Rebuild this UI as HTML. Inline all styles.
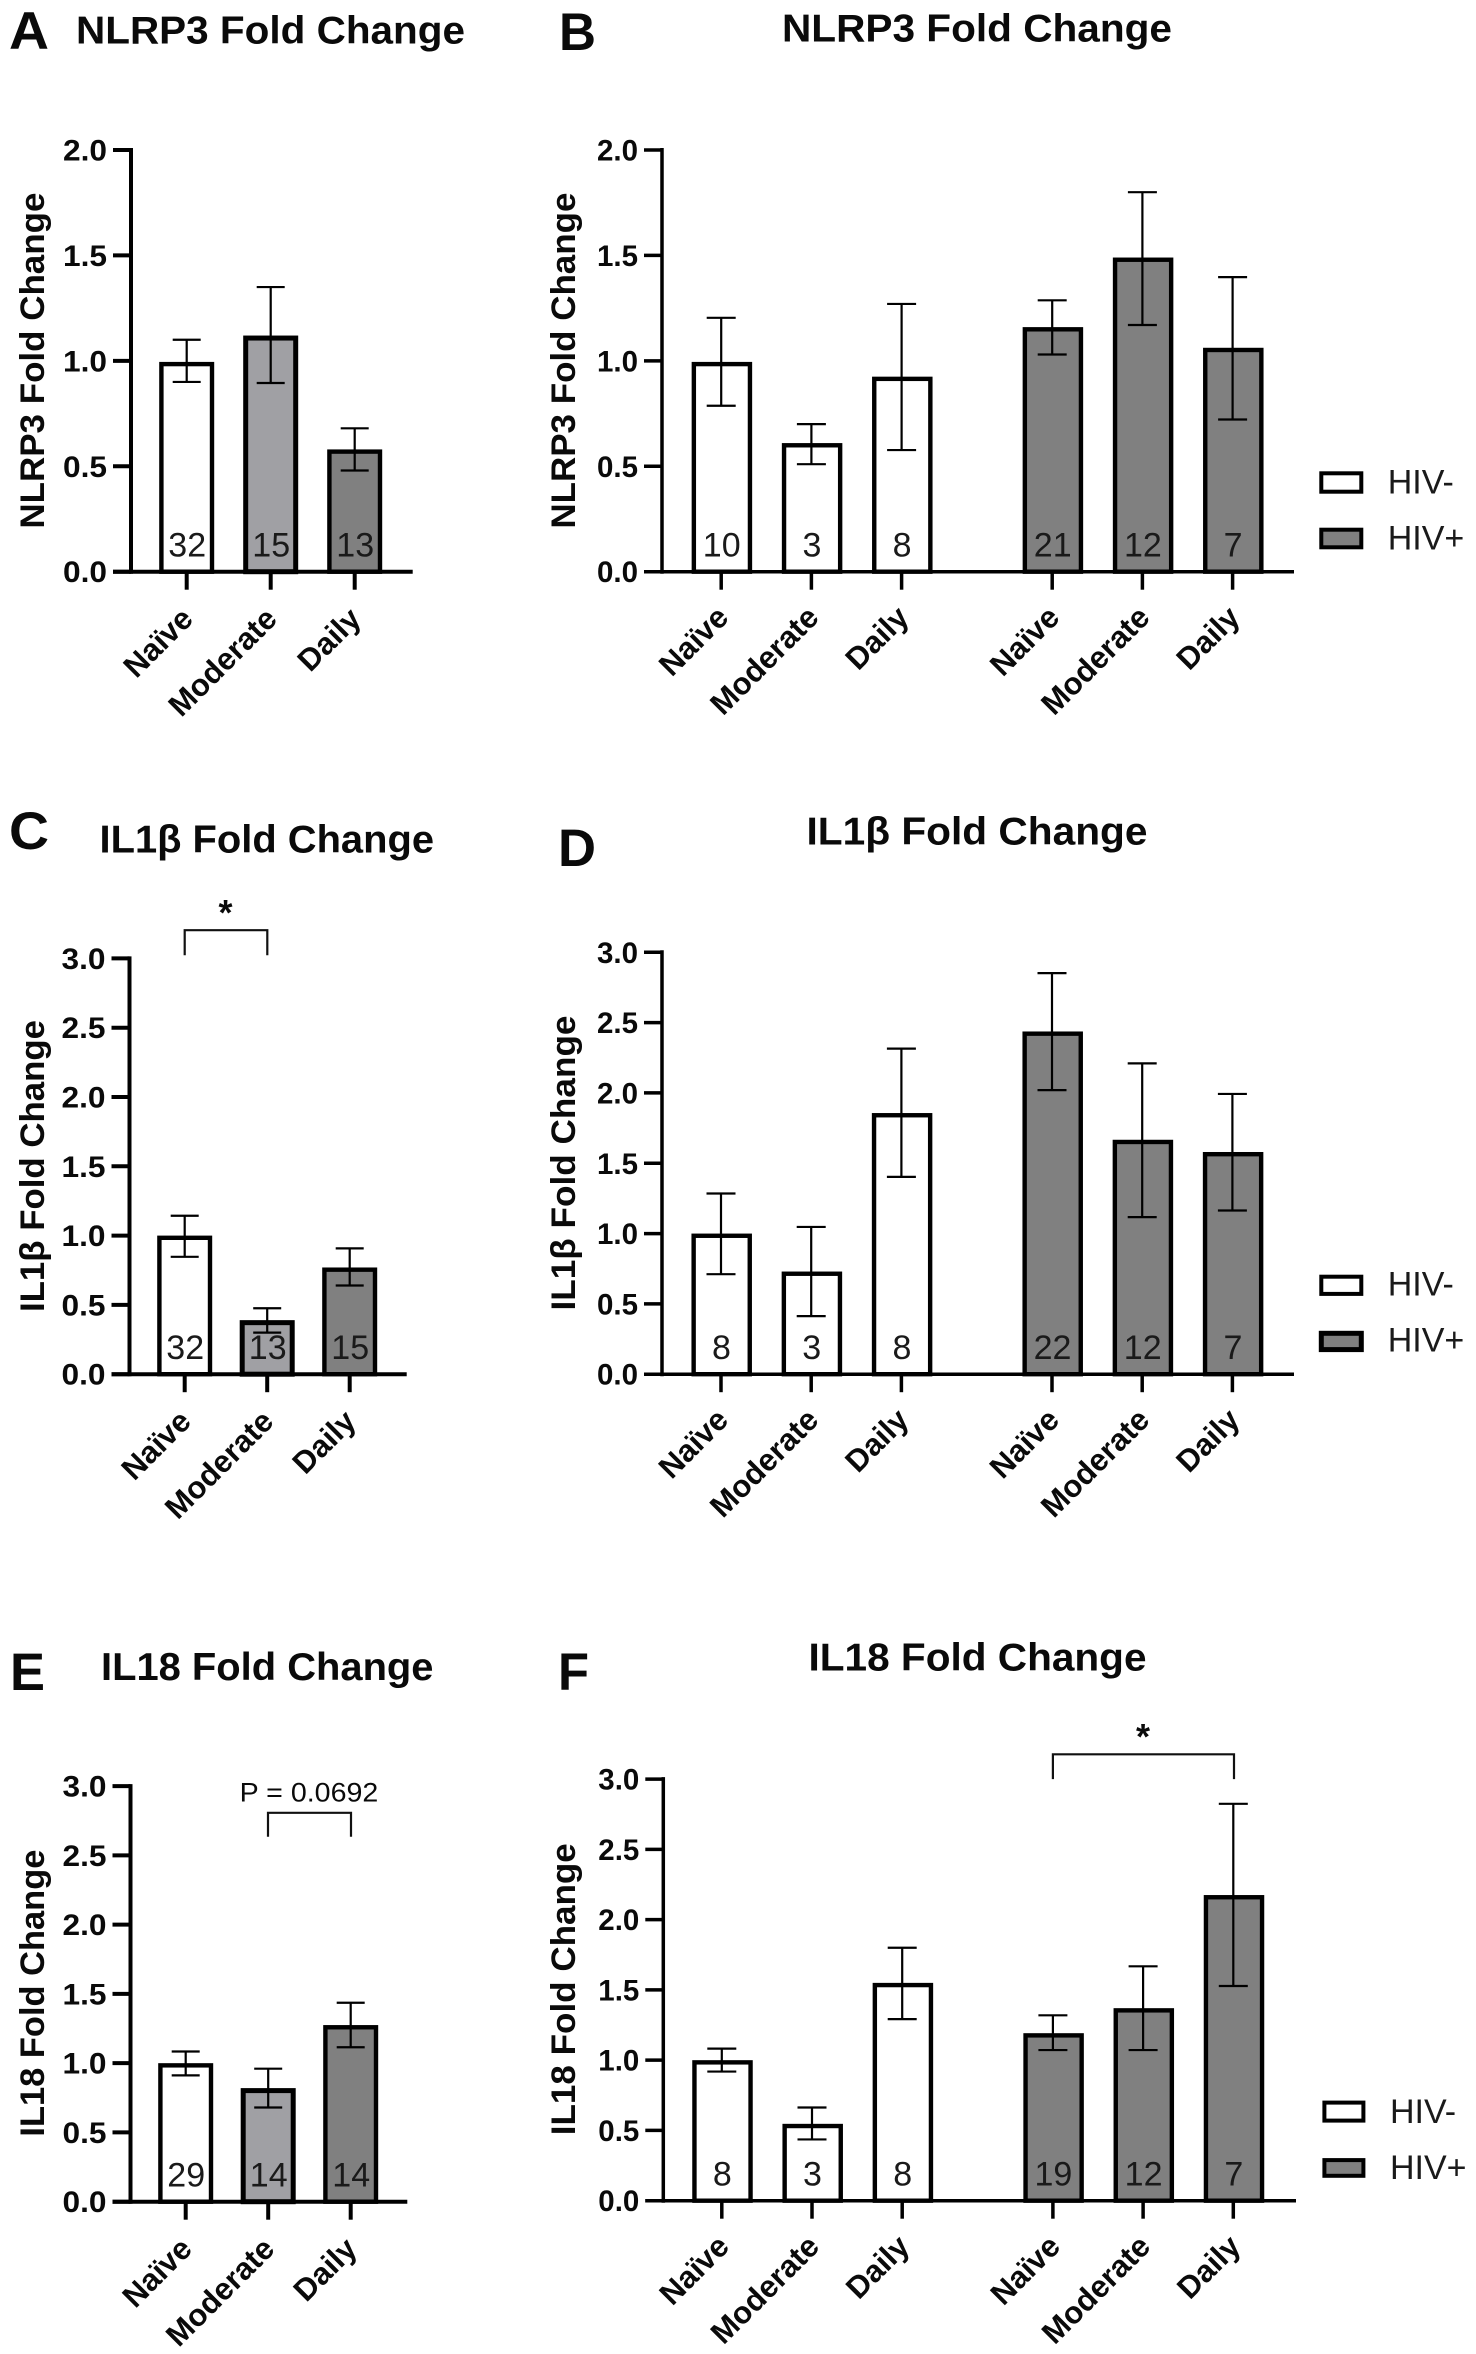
<!DOCTYPE html>
<html lang="en">
<head>
<meta charset="utf-8">
<title>NLRP3, IL1β and IL18 Fold Change</title>
<style>
html,body{margin:0;padding:0;background:#fff;}
svg{display:block;}
text{font-family:"Liberation Sans",Arial,sans-serif;fill:#0a0a0a;}
.t{font-weight:700;font-size:39px;}
.l{font-weight:700;font-size:53px;}
.yt{font-weight:700;font-size:34px;}
.leg{font-size:34px;fill:#1a1a1a;}
.star{font-weight:700;font-size:36px;}
</style>
</head>
<body>
<svg id="figure" xmlns="http://www.w3.org/2000/svg" width="1476" height="2354" viewBox="0 0 1476 2354">
  <rect x="0" y="0" width="1476" height="2354" fill="#fff"/>

  <text class="l" x="9" y="49" textLength="40" lengthAdjust="spacingAndGlyphs">A</text>
  <text class="l" x="559" y="50" textLength="37" lengthAdjust="spacingAndGlyphs">B</text>
  <text class="l" x="9" y="849" textLength="40" lengthAdjust="spacingAndGlyphs">C</text>
  <text class="l" x="558" y="866" textLength="38" lengthAdjust="spacingAndGlyphs">D</text>
  <text class="l" x="10" y="1690" textLength="35" lengthAdjust="spacingAndGlyphs">E</text>
  <text class="l" x="558" y="1690" textLength="31" lengthAdjust="spacingAndGlyphs">F</text>

  <text class="t" x="76" y="43.4" textLength="389" lengthAdjust="spacingAndGlyphs">NLRP3 Fold Change</text>
  <text class="t" x="782" y="41.5" textLength="390" lengthAdjust="spacingAndGlyphs">NLRP3 Fold Change</text>
  <text class="t" x="99.5" y="852.3" textLength="334.5" lengthAdjust="spacingAndGlyphs">IL1β Fold Change</text>
  <text class="t" x="806.5" y="844.3" textLength="341" lengthAdjust="spacingAndGlyphs">IL1β Fold Change</text>
  <text class="t" x="101" y="1680" textLength="332.5" lengthAdjust="spacingAndGlyphs">IL18 Fold Change</text>
  <text class="t" x="808.5" y="1670.5" textLength="338" lengthAdjust="spacingAndGlyphs">IL18 Fold Change</text>

  <text class="yt" transform="translate(44 528.6) rotate(-90)" textLength="336" lengthAdjust="spacingAndGlyphs">NLRP3 Fold Change</text>
  <text class="yt" transform="translate(575 528.6) rotate(-90)" textLength="336" lengthAdjust="spacingAndGlyphs">NLRP3 Fold Change</text>
  <text class="yt" transform="translate(44 1312) rotate(-90)" textLength="292" lengthAdjust="spacingAndGlyphs">IL1β Fold Change</text>
  <text class="yt" transform="translate(575 1310.5) rotate(-90)" textLength="295" lengthAdjust="spacingAndGlyphs">IL1β Fold Change</text>
  <text class="yt" transform="translate(44 2136.6) rotate(-90)" textLength="287" lengthAdjust="spacingAndGlyphs">IL18 Fold Change</text>
  <text class="yt" transform="translate(575 2135.2) rotate(-90)" textLength="292" lengthAdjust="spacingAndGlyphs">IL18 Fold Change</text>

  <g id="charts"></g>

  <path d="M184.7 955.2V930.2H267.3V955.2" fill="none" stroke="#111" stroke-width="2.2"/>
  <text class="star" x="225.5" y="925" text-anchor="middle">*</text>
  <path d="M268 1836.7V1812.8H351V1836.7" fill="none" stroke="#111" stroke-width="2.2"/>
  <text x="239.7" y="1801.6" font-size="27" textLength="138.6" lengthAdjust="spacingAndGlyphs">P = 0.0692</text>
  <path d="M1052.9 1779.1V1754.3H1234V1779.1" fill="none" stroke="#111" stroke-width="2.2"/>
  <text class="star" x="1143" y="1749" text-anchor="middle">*</text>

  <g>
    <rect x="1321.3" y="473.3" width="40" height="18.4" fill="#fff" stroke="#000" stroke-width="4"/>
    <text class="leg" x="1387.7" y="493.3">HIV-</text>
    <rect x="1321.3" y="529.7" width="40" height="17.6" fill="#808080" stroke="#000" stroke-width="4"/>
    <text class="leg" x="1387.7" y="549.6">HIV+</text>
  </g>
  <g>
    <rect x="1321.3" y="1276.7" width="40" height="17.2" fill="#fff" stroke="#000" stroke-width="4"/>
    <text class="leg" x="1387.7" y="1295.5">HIV-</text>
    <rect x="1321.3" y="1333.3" width="40" height="16.3" fill="#808080" stroke="#000" stroke-width="5"/>
    <text class="leg" x="1387.7" y="1351.6">HIV+</text>
  </g>
  <g>
    <rect x="1324.4" y="2102.6" width="39" height="18" fill="#fff" stroke="#000" stroke-width="4"/>
    <text class="leg" x="1390" y="2123">HIV-</text>
    <rect x="1324.4" y="2160.1" width="39" height="15.7" fill="#808080" stroke="#000" stroke-width="4"/>
    <text class="leg" x="1390" y="2179.2">HIV+</text>
  </g>
</svg>
<script>
// Chart data.
const threeGroupLabels = ['Naïve', 'Moderate', 'Daily'];
const sixGroupLabels = ['Naïve', 'Moderate', 'Daily', 'Naïve', 'Moderate', 'Daily'];
const ticksTwo = ['0.0', '0.5', '1.0', '1.5', '2.0'];
const ticksThree = ['0.0', '0.5', '1.0', '1.5', '2.0', '2.5', '3.0'];

const aMeans = [0.995, 1.12, 0.58];
const aErrHigh = [1.10, 1.35, 0.68];
const aErrLow = [0.90, 0.895, 0.48];
const aCounts = ['32', '15', '13'];

const bMeans = [0.995, 0.61, 0.925, 1.16, 1.49, 1.062];
const bErrHigh = [1.204, 0.70, 1.27, 1.287, 1.80, 1.397];
const bErrLow = [0.787, 0.51, 0.577, 1.03, 1.17, 0.722];
const bCounts = ['10', '3', '8', '21', '12', '7'];

const cMeans = [1.0, 0.39, 0.77];
const cErrHigh = [1.143, 0.476, 0.908];
const cErrLow = [0.847, 0.30, 0.64];
const cCounts = ['32', '13', '15'];

const dMeans = [1.0, 0.73, 1.857, 2.437, 1.667, 1.58];
const dErrHigh = [1.285, 1.047, 2.315, 2.852, 2.21, 1.993];
const dErrLow = [0.711, 0.413, 1.403, 2.02, 1.117, 1.164];
const dCounts = ['8', '3', '8', '22', '12', '7'];

const eMeans = [1.0, 0.82, 1.275];
const eErrHigh = [1.084, 0.96, 1.436];
const eErrLow = [0.912, 0.68, 1.115];
const eCounts = ['29', '14', '14'];

const fMeans = [1.0, 0.547, 1.55, 1.192, 1.37, 2.175];
const fErrHigh = [1.082, 0.663, 1.80, 1.319, 1.668, 2.824];
const fErrLow = [0.919, 0.436, 1.292, 1.072, 1.072, 1.528];
const fCounts = ['8', '3', '8', '19', '12', '7'];

const threeFills = ['#ffffff', '#a0a0a4', '#808080'];
const sixFills = ['#ffffff', '#ffffff', '#ffffff', '#808080', '#808080', '#808080'];

const NS = 'http://www.w3.org/2000/svg';
const root = document.getElementById('charts');

function node(parent, tag, attrs, content) {
  const el = document.createElementNS(NS, tag);
  for (const k in attrs) el.setAttribute(k, attrs[k]);
  if (content !== undefined) el.textContent = content;
  parent.appendChild(el);
  return el;
}

function drawPanel(p) {
  const wide = p.labels.length === 6;
  const yMax = parseFloat(p.ticks[p.ticks.length - 1]);
  const yScale = v => p.y0 - (v / yMax) * (p.y0 - p.yTop);
  const xScale = i => p.x0 + i * p.step + (i >= 3 ? p.gap : 0);

  const g = node(root, 'g', {});
  
  

  p.means.forEach((m, i) => {
    const sw = p.fills[i] === '#a0a0a4' ? 5 : 4.4;
    const top = yScale(m);
    const bar = node(g, 'rect', {
      x: xScale(i) + p.barShift - p.barW / 2 + sw / 2, y: top + sw / 2,
      width: p.barW - sw, height: p.y0 - top - sw / 2,
      fill: p.fills[i], stroke: '#000', 'stroke-width': sw
    });
    
    

    const hi = yScale(p.high[i]);
    const lo = yScale(p.low[i]);
    const x = xScale(i);
    const err = node(g, 'path', {
      d: 'M' + (x - p.cap / 2) + ' ' + hi + 'H' + (x + p.cap / 2) +
         'M' + x + ' ' + hi + 'V' + lo +
         'M' + (x - p.cap / 2) + ' ' + lo + 'H' + (x + p.cap / 2),
      fill: 'none', stroke: '#000', 'stroke-width': 2.2
    });
    
    

    const count = node(g, 'text', {
      x: x + 0.5, y: p.y0 - 15, 'text-anchor': 'middle', 'font-size': 34, style: 'fill:#1a1a1a'
    }, p.counts[i]);
    
    

    const tick = node(g, 'line', {
      x1: x, x2: x, y1: p.y0, y2: p.y0 + 18, stroke: '#000', 'stroke-width': wide ? 3.5 : 4
    });
    
    

    const ax = x + (wide ? 9 : 8);
    const ay = p.y0 + (wide ? 47.5 : 49);
    const lab = node(g, 'text', {
      transform: 'translate(' + ax + ' ' + ay + ') rotate(-45)',
      'text-anchor': 'end', 'font-size': 31, 'font-weight': 700
    }, p.labels[i]);
    
    
  });

  p.ticks.forEach(t => {
    const y = yScale(parseFloat(t));
    const tk = node(g, 'line', {
      x1: p.axisX - 18, x2: p.axisX, y1: y, y2: y, stroke: '#000', 'stroke-width': wide ? 3.5 : 4
    });
    
    

    const lb = node(g, 'text', {
      x: p.axisX - 24, y: y + 10.5, 'text-anchor': 'end', 'font-size': 30, 'font-weight': 700,
      textLength: wide ? 41 : 44, lengthAdjust: 'spacingAndGlyphs'
    }, t);
    
    
  });

  const yAxis = node(g, 'line', {
    x1: p.axisX, x2: p.axisX, y1: p.yTop - 2, y2: p.y0 + 2, stroke: '#000', 'stroke-width': wide ? 3.5 : 4
  });
  
  

  const xAxis = node(g, 'line', {
    x1: p.axisX - 18, x2: p.xEnd, y1: p.y0, y2: p.y0, stroke: '#000', 'stroke-width': wide ? 3.5 : 4
  });
  
  
}

drawPanel({ id: 'a', labels: threeGroupLabels, ticks: ticksTwo, means: aMeans, high: aErrHigh, low: aErrLow, counts: aCounts, fills: threeFills,
  axisX: 131, xEnd: 412.7, y0: 571.7, yTop: 150, x0: 186.7, step: 84, gap: 0, barW: 55, barShift: 0, cap: 28 });
drawPanel({ id: 'b', labels: sixGroupLabels, ticks: ticksTwo, means: bMeans, high: bErrHigh, low: bErrLow, counts: bCounts, fills: sixFills,
  axisX: 662, xEnd: 1294, y0: 571.7, yTop: 150, x0: 721.2, step: 90.2, gap: 60.4, barW: 60.5, barShift: 0.7, cap: 29 });
drawPanel({ id: 'c', labels: threeGroupLabels, ticks: ticksThree, means: cMeans, high: cErrHigh, low: cErrLow, counts: cCounts, fills: threeFills,
  axisX: 129.5, xEnd: 406.7, y0: 1374.2, yTop: 958.4, x0: 184.7, step: 82.5, gap: 0, barW: 55, barShift: 0, cap: 28 });
drawPanel({ id: 'd', labels: sixGroupLabels, ticks: ticksThree, means: dMeans, high: dErrHigh, low: dErrLow, counts: dCounts, fills: sixFills,
  axisX: 662, xEnd: 1294, y0: 1374.2, yTop: 952.3, x0: 721, step: 90.2, gap: 60.4, barW: 60.5, barShift: 0.7, cap: 29 });
drawPanel({ id: 'e', labels: threeGroupLabels, ticks: ticksThree, means: eMeans, high: eErrHigh, low: eErrLow, counts: eCounts, fills: threeFills,
  axisX: 130.5, xEnd: 407.3, y0: 2201.7, yTop: 1786.1, x0: 185.7, step: 82.5, gap: 0, barW: 55, barShift: 0, cap: 28 });
drawPanel({ id: 'f', labels: sixGroupLabels, ticks: ticksThree, means: fMeans, high: fErrHigh, low: fErrLow, counts: fCounts, fills: sixFills,
  axisX: 663.3, xEnd: 1296, y0: 2200.7, yTop: 1779.1, x0: 721.8, step: 90.2, gap: 60.5, barW: 60.5, barShift: 0.7, cap: 29 });
</script>
</body>
</html>
